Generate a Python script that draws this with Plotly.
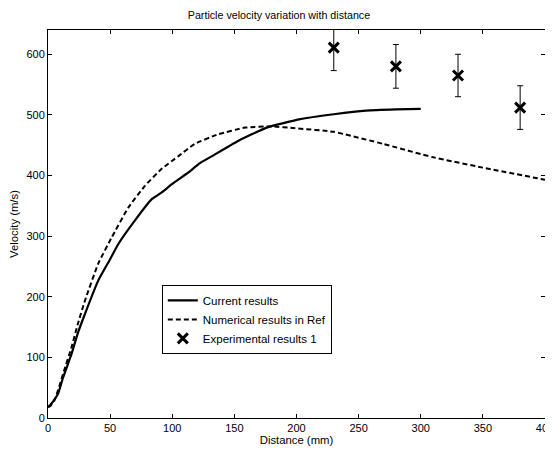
import plotly.graph_objects as go

# Current results (solid)
cur_x = [0, 1.6, 4, 8.3, 12, 19, 24, 29.8, 40.5, 50, 56.6, 70, 83.5, 91.5, 100, 113, 122, 132, 153, 176, 203, 230, 256, 280, 300]
cur_y = [18, 21, 27, 41, 66, 106, 140, 172, 227, 262, 287, 326, 361, 372, 386, 405, 420, 432, 457, 479, 493, 501, 507, 509, 510]

# Numerical results in Ref (dashed)
ref_x = [0, 2, 5, 8.3, 12, 19, 24, 29.8, 40.5, 51.3, 64.6, 78, 91.5, 105, 118, 137, 158.6, 180, 199, 230, 270, 310, 350, 400]
ref_y = [18, 20, 28, 47, 72, 117, 155, 194, 255, 298, 347, 383, 411, 432, 452, 468, 479, 481, 478, 472, 452, 430, 413, 393]

# Experimental results
exp_x = [230, 280, 330, 380]
exp_y = [611, 580, 565, 512]
exp_err = [38, 36, 35, 36]

font = dict(family="Liberation Sans, Arial, sans-serif", size=11, color="black")

fig = go.Figure()
fig.add_trace(go.Scatter(x=cur_x, y=cur_y, mode="lines", name="Current results",
                         line=dict(color="black", width=2.2, shape="spline", smoothing=0.4)))
fig.add_trace(go.Scatter(x=ref_x, y=ref_y, mode="lines", name="Numerical results in Ref",
                         line=dict(color="black", width=2, dash="5px,3px", shape="spline", smoothing=0.4)))
fig.add_trace(go.Scatter(x=exp_x, y=exp_y, mode="markers", name="Experimental results 1",
                         marker=dict(symbol="x-thin", size=10, line=dict(width=3, color="black"), color="black"),
                         error_y=dict(type="data", array=exp_err, color="black", thickness=1, width=3)))

fig.update_layout(
    width=553, height=450,
    margin=dict(l=40, r=16, t=22, b=40),
    paper_bgcolor="white", plot_bgcolor="white",
    font=font,
    title=dict(text="Particle velocity variation with distance", x=0.49, xanchor="center",
               y=0.983, yanchor="middle", font=dict(size=10.7, color="black")),
    legend=dict(x=0.229, y=0.343, xanchor="left", yanchor="top",
                bordercolor="black", borderwidth=1, bgcolor="white",
                font=dict(size=11.5), tracegroupgap=0, itemwidth=30),
    showlegend=True,
)
fig.update_xaxes(range=[0, 400], tickvals=[0, 50, 100, 150, 200, 250, 300, 350, 400],
                 ticks="inside", ticklen=4, tickcolor="black", showline=True, linecolor="black",
                 linewidth=1, mirror="ticks", showgrid=False, zeroline=False, automargin=False,
                 title=dict(text="Distance (mm)", standoff=0, font=dict(size=11.3)))
fig.update_yaxes(range=[0, 640], tickvals=[0, 100, 200, 300, 400, 500, 600],
                 ticks="inside", ticklen=4, tickcolor="black", showline=True, linecolor="black",
                 linewidth=1, mirror="ticks", showgrid=False, zeroline=False, automargin=False,
                 title=dict(text="Velocity (m/s)", standoff=8, font=dict(size=11.3)))

fig.write_html("out.html")
